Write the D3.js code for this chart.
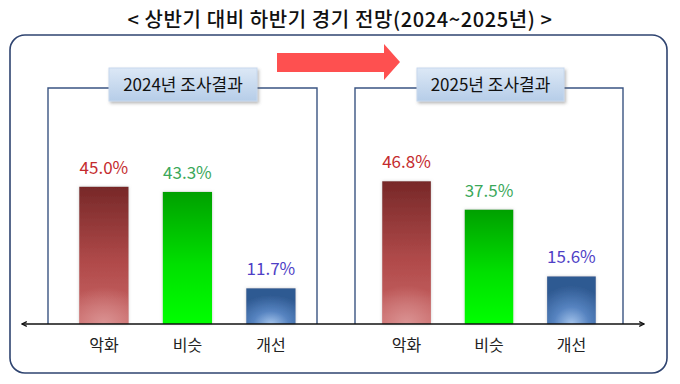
<!DOCTYPE html>
<html>
<head>
<meta charset="utf-8">
<script src="https://cdn.jsdelivr.net/npm/d3@7"></script>
<style>
  html, body { margin: 0; padding: 0; background: #fff; }
  svg { display: block; font-family: "Noto Sans CJK KR", "Noto Sans", sans-serif; }
</style>
</head>
<body>
<svg width="680" height="384"></svg>
<script>
(function() {
  // chart data
  var chartTitle = "< 상반기 대비 하반기 경기 전망(2024~2025년) >";
  var categories = ["악화", "비슷", "개선"];
  var panelTitles = ["2024년 조사결과", "2025년 조사결과"];
  var values2024 = [45.0, 43.3, 11.7];
  var values2025 = [46.8, 37.5, 15.6];

  var svg = d3.select("svg"),
    width = +svg.attr("width"),
    height = +svg.attr("height");

  var baseY = 324;
  var y = d3.scaleLinear()
      .domain([0, 50])
      .range([baseY, 171.5]);

  var labelColor = ["#c42b2e", "#3ba85a", "#4f3fc6"];

  var defs = svg.append("defs");

  // bar fills
  var gRed = defs.append("linearGradient").attr("id", "gRed")
      .attr("x1", 0).attr("y1", 0).attr("x2", 0).attr("y2", 1);
  gRed.append("stop").attr("offset", "0%").attr("stop-color", "#772828");
  gRed.append("stop").attr("offset", "55%").attr("stop-color", "#b04a4a");
  gRed.append("stop").attr("offset", "100%").attr("stop-color", "#c96666");

  var rRed = defs.append("radialGradient").attr("id", "rRed")
      .attr("cx", 0.5).attr("cy", 1).attr("r", 0.9)
      .attr("gradientTransform", "translate(0.5,1) scale(1,0.3) translate(-0.5,-1)");
  rRed.append("stop").attr("offset", "0%").attr("stop-color", "#dc9898").attr("stop-opacity", 0.9);
  rRed.append("stop").attr("offset", "100%").attr("stop-color", "#dc9898").attr("stop-opacity", 0);

  var gGreen = defs.append("linearGradient").attr("id", "gGreen")
      .attr("x1", 0).attr("y1", 0).attr("x2", 0).attr("y2", 1);
  gGreen.append("stop").attr("offset", "0%").attr("stop-color", "#00a000");
  gGreen.append("stop").attr("offset", "55%").attr("stop-color", "#00e000");
  gGreen.append("stop").attr("offset", "100%").attr("stop-color", "#00ff00");

  var gBlue = defs.append("radialGradient").attr("id", "gBlue")
      .attr("cx", 0.5).attr("cy", 1).attr("r", 0.8);
  gBlue.append("stop").attr("offset", "0%").attr("stop-color", "#a4c4ec");
  gBlue.append("stop").attr("offset", "45%").attr("stop-color", "#5683c0");
  gBlue.append("stop").attr("offset", "100%").attr("stop-color", "#2f5a92");

  var gLabel = defs.append("linearGradient").attr("id", "gLabel")
      .attr("x1", 0).attr("y1", 0).attr("x2", 0).attr("y2", 1);
  gLabel.append("stop").attr("offset", "0%").attr("stop-color", "#dce8f6");
  gLabel.append("stop").attr("offset", "100%").attr("stop-color", "#b6cde8");

  var glow = defs.append("filter").attr("id", "glow")
      .attr("x", "-20%").attr("y", "-10%").attr("width", "140%").attr("height", "120%");
  glow.append("feDropShadow").attr("dx", 0).attr("dy", 0)
      .attr("stdDeviation", 1.6).attr("flood-color", "#999").attr("flood-opacity", 0.5);

  var shadow = defs.append("filter").attr("id", "shadow")
      .attr("x", "-10%").attr("y", "-20%").attr("width", "125%").attr("height", "150%");
  shadow.append("feDropShadow").attr("dx", 1.5).attr("dy", 2)
      .attr("stdDeviation", 1.5).attr("flood-color", "#666").attr("flood-opacity", 0.45);

  var arrowHead = function(id) {
    defs.append("marker").attr("id", id)
        .attr("viewBox", "0 0 10 10").attr("refX", 9).attr("refY", 5)
        .attr("markerWidth", 6).attr("markerHeight", 6)
        .attr("markerUnits", "userSpaceOnUse")
        .attr("orient", "auto-start-reverse")
      .append("path")
        .attr("d", "M1,1 L9,5 L1,9")
        .attr("fill", "none").attr("stroke", "#111").attr("stroke-width", 2);
  };
  arrowHead("tip");

  // title
  svg.append("text")
      .attr("x", width / 2)
      .attr("y", 27)
      .attr("text-anchor", "middle")
      .attr("font-size", 20)
      .attr("font-weight", 500)
      .attr("letter-spacing", 0.6)
      .attr("fill", "#111")
      .text(chartTitle);

  // outer frame
  svg.append("rect")
      .attr("x", 10).attr("y", 35)
      .attr("width", 657).attr("height", 338)
      .attr("rx", 15)
      .attr("fill", "none")
      .attr("stroke", "#2f4470")
      .attr("stroke-width", 1.6);

  // red arrow between panels
  svg.append("path")
      .attr("d", "M277,53 L384,53 L384,44 L400,62 L384,80 L384,72 L277,72 Z")
      .attr("fill", "#fe5050");

  var panels = [
    { title: panelTitles[0], values: values2024, range: [37.5, 337.3], box: [48, 317], label: [109, 257] },
    { title: panelTitles[1], values: values2025, range: [341, 637], box: [355, 623], label: [417, 564] }
  ];

  panels.forEach(function(p) {
    var x = d3.scaleBand()
        .domain(categories)
        .range(p.range)
        .paddingInner(0.41)
        .paddingOuter(0.5);

    var g = svg.append("g");

    // panel frame (open at the bottom)
    g.append("path")
        .attr("d", "M" + p.box[0] + "," + baseY + " V88 H" + p.box[1] + " V" + baseY)
        .attr("fill", "none")
        .attr("stroke", "#3a5482")
        .attr("stroke-width", 1.4);

    // panel title box
    g.append("rect")
        .attr("x", p.label[0]).attr("y", 68)
        .attr("width", p.label[1] - p.label[0]).attr("height", 33)
        .attr("fill", "url(#gLabel)")
        .attr("stroke", "#c7d8ee")
        .attr("stroke-width", 1)
        .attr("filter", "url(#shadow)");

    g.append("text")
        .attr("x", (p.label[0] + p.label[1]) / 2)
        .attr("y", 91)
        .attr("text-anchor", "middle")
        .attr("font-size", 17)
        .attr("fill", "#111")
        .text(p.title);

    var fills = ["url(#gRed)", "url(#gGreen)", "url(#gBlue)"];

    g.selectAll("rect.bar")
      .data(p.values)
      .enter().append("rect")
        .attr("class", "bar")
        .attr("x", function(d, i) { return x(categories[i]); })
        .attr("y", function(d) { return y(d); })
        .attr("width", x.bandwidth())
        .attr("height", function(d) { return y(0) - y(d); })
        .attr("fill", function(d, i) { return fills[i]; })
        .attr("filter", "url(#glow)");

    // soft light at bottom of the red bar
    g.append("rect")
        .attr("x", x(categories[0]))
        .attr("y", y(p.values[0]))
        .attr("width", x.bandwidth())
        .attr("height", y(0) - y(p.values[0]))
        .attr("fill", "url(#rRed)");

    g.selectAll("text.val")
      .data(p.values)
      .enter().append("text")
        .attr("class", "val")
        .attr("x", function(d, i) { return x(categories[i]) + x.bandwidth() / 2; })
        .attr("y", function(d) { return y(d) - 13; })
        .attr("text-anchor", "middle")
        .attr("font-size", 17)
        .attr("fill", function(d, i) { return labelColor[i]; })
        .text(function(d) { return d.toFixed(1) + "%"; });

    g.selectAll("text.cat")
      .data(categories)
      .enter().append("text")
        .attr("class", "cat")
        .attr("x", function(d) { return x(d) + x.bandwidth() / 2; })
        .attr("y", 351)
        .attr("text-anchor", "middle")
        .attr("font-size", 16)
        .attr("fill", "#222")
        .text(function(d) { return d; });
  });

  // shared baseline with arrows at both ends
  svg.append("line")
      .attr("x1", 22).attr("x2", 644)
      .attr("y1", baseY).attr("y2", baseY)
      .attr("stroke", "#111")
      .attr("stroke-width", 1.6)
      .attr("marker-start", "url(#tip)")
      .attr("marker-end", "url(#tip)");
})();
</script>
</body>
</html>
